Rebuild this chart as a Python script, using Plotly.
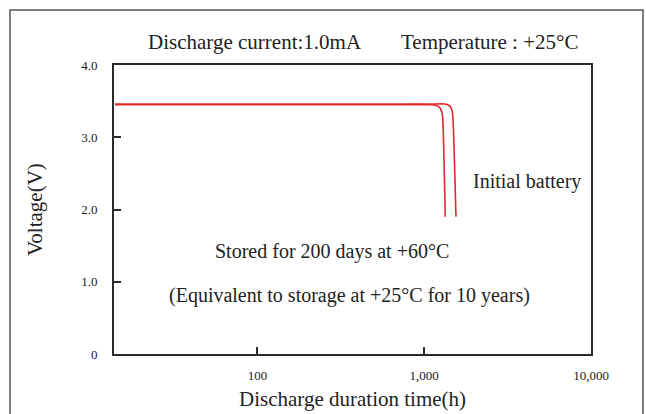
import plotly.graph_objects as go

# Discharge curves (hours, volts)
stored_hours = [14, 600, 1083, 1176, 1226, 1260, 1287, 1305, 1323, 1337]
stored_volts = [3.45, 3.45, 3.45, 3.44, 3.42, 3.38, 3.31, 2.96, 2.41, 1.9]

initial_hours = [14, 600, 1083, 1332, 1407, 1447, 1477, 1498, 1529, 1550]
initial_volts = [3.46, 3.46, 3.46, 3.46, 3.44, 3.41, 3.34, 3.10, 2.41, 1.9]

x_tickvals = [100, 1000, 10000]
x_ticktext = ["100", "1,000", "10,000"]
y_tickvals = [0, 1, 2, 3, 4]
y_ticktext = ["0", "1.0", "2.0", "3.0", "4.0"]

FONT = "Liberation Serif, Times New Roman, serif"
RED = "#e0282a"
AX = "#2b2b2b"

fig = go.Figure()
fig.add_trace(go.Scatter(x=stored_hours, y=stored_volts, mode="lines",
                         line=dict(color=RED, width=1.6, shape="spline", smoothing=0.6),
                         showlegend=False, hoverinfo="skip"))
fig.add_trace(go.Scatter(x=initial_hours, y=initial_volts, mode="lines",
                         line=dict(color=RED, width=1.6, shape="spline", smoothing=0.6),
                         showlegend=False, hoverinfo="skip"))

fig.update_xaxes(type="log", range=[1.14, 4.0], tickvals=x_tickvals, ticktext=x_ticktext,
                 ticks="inside", ticklen=7, tickwidth=2, tickcolor=AX,
                 showline=True, linecolor=AX, linewidth=2, mirror=True,
                 showgrid=False, zeroline=False, ticklabelstandoff=8,
                 tickfont=dict(family=FONT, size=13, color="#222"))
fig.update_yaxes(range=[0, 4], tickvals=y_tickvals, ticktext=y_ticktext,
                 ticks="inside", ticklen=7, tickwidth=2, tickcolor=AX,
                 showline=True, linecolor=AX, linewidth=2, mirror=True,
                 showgrid=False, zeroline=False, ticklabelstandoff=12,
                 tickfont=dict(family=FONT, size=13, color="#222"))

ann_font = dict(family=FONT, size=20, color="#222")
title_font = dict(family=FONT, size=21, color="#222")
annotations = [
    dict(text="Discharge current:1.0mA", x=0.067, y=1.078, xanchor="left", yanchor="middle", font=title_font),
    dict(text="Temperature : +25°C", x=0.5975, y=1.078, xanchor="left", yanchor="middle", font=title_font),
    dict(text="Stored for 200 days at +60°C", x=0.458, y=0.353, xanchor="center", yanchor="middle", font=ann_font),
    dict(text="(Equivalent to storage at +25°C for 10 years)", x=0.4927, y=0.2007, xanchor="center", yanchor="middle", font=ann_font),
    dict(text="Initial battery", x=0.748, y=0.5986, xanchor="left", yanchor="middle", font=ann_font),
    dict(text="Discharge duration time(h)", x=0.499, y=-0.1557, xanchor="center", yanchor="middle", font=title_font),
    dict(text="Voltage(V)", x=-0.1656, y=0.498, xanchor="center", yanchor="middle", textangle=-90, font=title_font),
]
for a in annotations:
    a.update(xref="paper", yref="paper", showarrow=False)

fig.update_layout(
    width=646, height=414,
    margin=dict(l=114, r=55, t=65, b=60),
    paper_bgcolor="white", plot_bgcolor="white",
    annotations=annotations,
    shapes=[dict(type="rect", xref="paper", yref="paper", x0=-0.218, x1=1.109, y0=-0.3, y1=1.19,
                 line=dict(color="#555", width=1.5), layer="below")],
)

fig.write_html("out.html", config={"displayModeBar": False, "staticPlot": True},
               post_script="document.body.style.margin='0px';document.body.style.overflow='hidden';")
